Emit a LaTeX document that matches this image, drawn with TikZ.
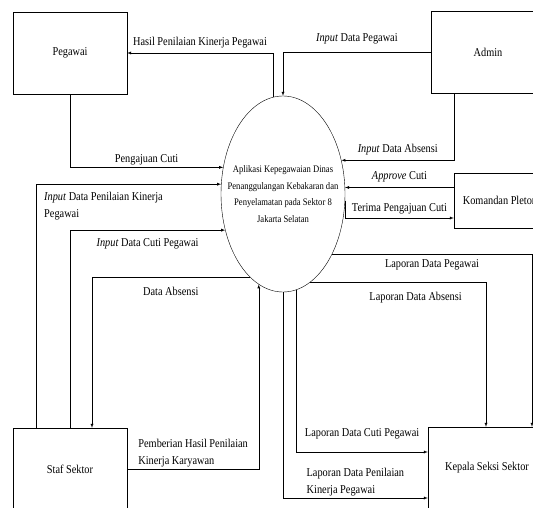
\documentclass[tikz,border=0pt]{standalone}
\usepackage{fontspec}
\setmainfont{Liberation Serif}[FakeStretch=0.86]
\usetikzlibrary{shapes.geometric, arrows, positioning, calc}

\begin{document}
\begin{tikzpicture}[
    x=1pt, y=-1pt,
    ent/.style={rectangle, draw, minimum width=114pt, minimum height=82pt, font=\fontsize{12}{17}\selectfont},
    proc/.style={ellipse, draw, minimum width=124pt, minimum height=196pt, inner xsep=-15pt, inner ysep=0pt, align=center, font=\fontsize{10}{16.5}\selectfont},
    flow/.style={draw, -latex},
    lbl/.style={font=\fontsize{12}{17}\selectfont, inner sep=2pt}
]
\useasboundingbox (0,0) rectangle (533,508);
\clip (0,0) rectangle (533,508);

\node[ent] (peg) at (70,53) {Pegawai};
\node[ent] (adm) at (488,52.5) {Admin};
\node[ent, minimum width=92pt, minimum height=55pt] (kom) at (500,200.5) {Komandan Pleton};
\node[ent] (staf) at (70,469) {Staf Sektor};
\node[ent, minimum width=118pt] (kep) at (487,468) {Kepala Seksi Sektor};
\node[proc] (sys) at (283,194) {Aplikasi Kepegawaian Dinas\\Penanggulangan Kebakaran dan\\Penyelamatan pada Sektor 8\\Jakarta Selatan};

% Pegawai
\draw[flow] (sys.96) |- node[lbl, above, pos=0.75, yshift=3pt] {Hasil Penilaian Kinerja Pegawai} (peg.east);
\draw[flow] (peg.south) |- node[lbl, above, pos=0.75] {Pengajuan Cuti} (sys.156);

% Admin
\draw[flow] (adm.west) -| node[lbl, above, pos=0.25, yshift=6pt] {\textit{Input} Data Pegawai} (sys.north);
\draw[flow] ([xshift=-34pt]adm.south) |- node[lbl, above, pos=0.75, yshift=3pt] {\textit{Input} Data Absensi} (sys.30);

% Komandan Pleton
\draw[flow] (kom.west |- sys.6) -- node[lbl, above, yshift=3pt] {\textit{Approve} Cuti} (sys.6);
\draw[flow] (sys.-6) |- node[lbl, above, pos=0.75, yshift=2pt] {Terima Pengajuan Cuti} ([yshift=-17.5pt]kom.west);

% Staf Sektor
\draw[flow] ([xshift=-34pt]staf.north) |- node[lbl, below right, pos=0.5, xshift=6pt, yshift=-6pt, align=left] {\textit{Input} Data Penilaian Kinerja\\Pegawai} (sys.171);
\draw[flow] (staf.north) |- node[lbl, below, pos=0.75, yshift=-6pt] {\textit{Input} Data Cuti Pegawai} (sys.212);
\draw[flow] (sys.248) -| node[lbl, below, pos=0.25, yshift=-8pt] {Data Absensi} ([xshift=22pt]staf.north);
\draw[flow] (staf.east) -| node[lbl, above right, pos=0, xshift=9pt, align=left] {Pemberian Hasil Penilaian\\Kinerja Karyawan} (sys.255);

% Kepala Seksi Sektor
\draw[flow] (sys.309) -| node[lbl, below, pos=0.25, yshift=-3pt] {Laporan Data Pegawai} ([xshift=45pt]kep.north);
\draw[flow] (sys.287) -| node[lbl, below, pos=0.3, yshift=-8pt] {Laporan Data Absensi} ([xshift=-1pt]kep.north);
\draw[flow] (sys.278) |- node[lbl, above, pos=0.75, yshift=11pt] {Laporan Data Cuti Pegawai} ([yshift=16pt]kep.west);
\draw[flow] (sys.south) |- node[lbl, above, pos=0.75, align=left] {Laporan Data Penilaian\\Kinerja Pegawai} ([yshift=-30pt]kep.west);
\end{tikzpicture}
\end{document}
